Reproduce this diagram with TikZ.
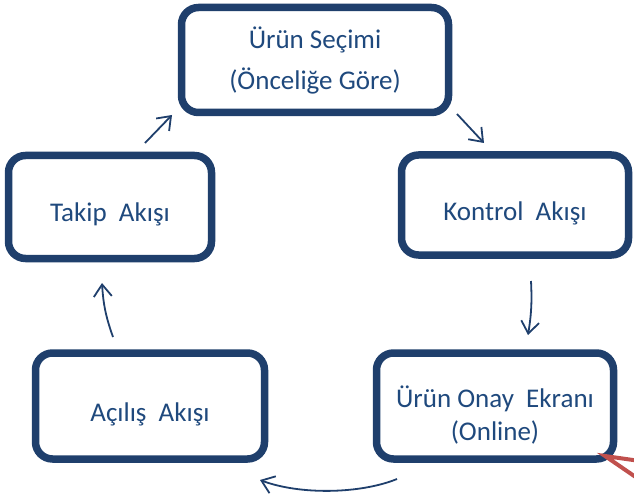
\documentclass[tikz,border=0pt]{standalone}
\usepackage{fontspec}
\setmainfont{Carlito}
\usetikzlibrary{arrows.meta,calc,shadows}
\definecolor{navy}{RGB}{31,63,108}
\definecolor{inkblue}{RGB}{31,73,125}
\definecolor{markred}{RGB}{192,80,77}

\begin{document}
\begin{tikzpicture}[x=1pt,y=-1pt,stage/.style={draw=navy,line width=7.5pt,rounded corners=17pt,fill=white,text=inkblue,align=center,inner sep=0pt,font=\fontsize{27}{33}\selectfont,drop shadow={shadow xshift=2pt,shadow yshift=-3pt,opacity=0.25}},oneline/.style={text height=36pt,text depth=6pt},flow/.style={draw=navy,line width=1.8pt,-{Straight Barb[length=12pt,width=18pt]}}]

\useasboundingbox (0,0) rectangle (634,497);
\clip (0,0) rectangle (634,497);

% Nodes
\node[stage,minimum width=267pt,minimum height=105pt,font=\fontsize{27}{41}\selectfont] (secim) at (315,60) {Ürün Seçimi\\(Önceliğe Göre)};
\node[stage,oneline,minimum width=203pt,minimum height=103pt] (takip) at (110,207) {Takip\ \ Akışı};
\node[stage,oneline,minimum width=227pt,minimum height=100pt] (kontrol) at (515,205) {Kontrol\ \ Akışı};
\node[stage,text height=75pt,text depth=6pt,minimum width=237pt,minimum height=106pt] (onay) at (495,406) {Ürün Onay\ \ Ekranı\\(Online)};
\node[stage,oneline,minimum width=229pt,minimum height=106pt] (acilis) at (150,406) {Açılış\ \ Akışı};

% arrow ends
\coordinate (t1) at (145,143); \coordinate (s1) at (172,115);
\coordinate (s2) at (457,114); \coordinate (k1) at (484,143);
\coordinate (k2) at (531,281); \coordinate (o1) at (528,335);
\coordinate (o2) at (397,479); \coordinate (a2) at (260,480);
\coordinate (a3) at (113,337); \coordinate (t2) at (102,283);
\coordinate (r0) at (605,456); \coordinate (r1) at (640,461); \coordinate (r2) at (640,480);

%arcs
\path (t1) edge[flow] (s1);
\path (s2) edge[flow] (k1);
\path (k2) edge[flow,bend left=6] (o1);
\draw[flow] (o2) .. controls (360,494) and (300,495) .. (a2);
\path (a3) edge[flow,bend left=8] (t2);
\draw[markred,line width=4pt] (r1) -- (r0) -- (r2);

\end{tikzpicture}
\end{document}
